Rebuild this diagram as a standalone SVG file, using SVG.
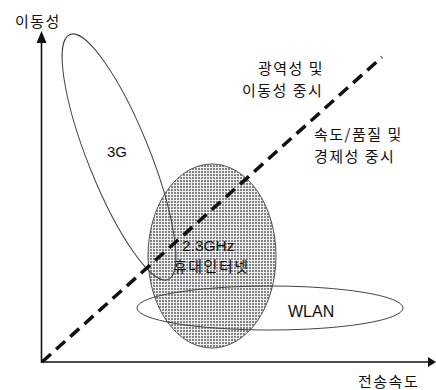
<svg xmlns="http://www.w3.org/2000/svg" width="436" height="390" viewBox="0 0 436 390">
<style>
.kr{font-family:"Noto Sans CJK KR","Noto Sans",sans-serif;font-size:15px;letter-spacing:1.5px;fill:#111}
.en{font-family:"Liberation Sans",Arial,sans-serif;fill:#111}
.thin{fill:none;stroke:#444;stroke-width:1}
.axis{stroke:#111;stroke-width:1.6;fill:none}
</style>
<defs>
<pattern id="hatch" width="3" height="3" patternUnits="userSpaceOnUse">
<rect width="3" height="3" fill="#f0f0f0"/>
<rect width="2" height="2" fill="#848484"/>
</pattern>
</defs>
<rect width="436" height="390" fill="#fff"/>
<g id="node-wibro">
<ellipse cx="212" cy="256" rx="64" ry="92" fill="url(#hatch)" stroke="#555" stroke-width="1"/>
<text class="en" x="182" y="251" font-size="15.5">2.3GHz</text>
<text class="kr" x="173" y="272">휴대인터넷</text>
</g>
<g id="node-3g">
<ellipse class="thin" cx="119" cy="157" rx="132" ry="31" transform="rotate(68.2 119 157)"/>
<text class="en" x="107" y="157" font-size="15">3G</text>
</g>
<g id="node-wlan">
<ellipse class="thin" cx="270" cy="308" rx="133" ry="22"/>
<text class="en" x="288" y="317" font-size="16">WLAN</text>
</g>
<g id="connectors">
<line class="axis" x1="41.5" y1="42" x2="41.5" y2="363"/>
<polygon points="41.5,31 36.5,43 46.5,43" fill="#111"/>
<line class="axis" x1="41" y1="362" x2="429" y2="362"/>
<polygon points="436,362 428,357 428,367" fill="#111"/>
<line x1="42" y1="362" x2="382" y2="57" stroke="#111" stroke-width="3.5" stroke-dasharray="12 7"/>
</g>
<g id="labels">
<text class="kr" x="15" y="27">이동성</text>
<text class="kr" x="358" y="387">전송속도</text>
<text class="kr" x="258" y="74">광역성 및</text>
<text class="kr" x="242" y="96">이동성 중시</text>
<text class="kr" x="314" y="139.5">속도/품질 및</text>
<text class="kr" x="314" y="161.5">경제성 중시</text>
</g>
</svg>
